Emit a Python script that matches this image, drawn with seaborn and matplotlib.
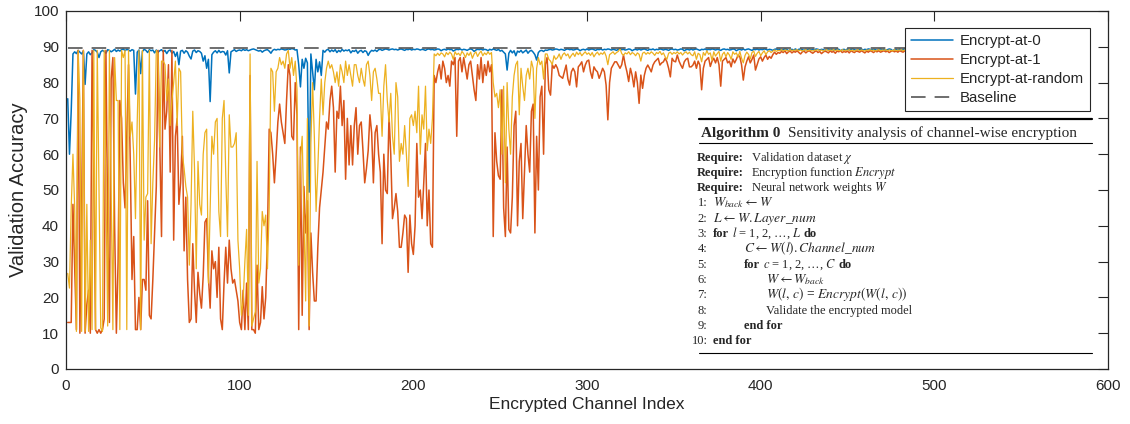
import matplotlib
matplotlib.use("Agg")
import matplotlib.pyplot as plt
from matplotlib.lines import Line2D
from matplotlib.patches import Rectangle
import numpy as np
import pandas as pd
import seaborn as sns

# validation accuracy per encrypted channel
acc_at0 = [
    75.5, 60.0, 72.0, 88.0, 88.6, 88.1, 89.0, 88.5, 88.0, 88.8,
    79.5, 88.0, 88.6, 87.8, 88.3, 89.2, 89.0, 88.5, 87.0, 88.6,
    89.0, 88.7, 88.2, 89.2, 89.0, 88.6, 88.9, 89.3, 88.7, 89.1,
    88.8, 89.2, 89.4, 88.9, 89.3, 89.1, 88.8, 89.2, 89.0, 76.8,
    88.5, 89.1, 82.5, 88.7, 89.3, 89.0, 88.4, 89.2, 88.9, 89.1,
    88.3, 89.1, 88.5, 88.9, 89.2, 88.6, 89.0, 88.1, 88.9, 89.1,
    88.2, 88.7, 87.3, 88.5, 85.0, 88.8, 89.0, 88.2, 88.9, 88.5,
    87.4, 86.6, 88.8, 89.1, 88.4, 88.9, 88.7, 88.2, 86.0, 87.5,
    84.0, 86.5, 74.7, 87.8, 88.5, 88.9, 88.3, 89.0, 88.4, 88.7,
    88.6, 87.7, 88.9, 82.7, 88.6, 88.9, 89.2, 88.7, 89.0, 89.1,
    88.9, 89.3, 89.0, 89.2, 88.9, 89.1, 89.3, 89.4, 89.2, 89.0,
    88.8, 89.0, 88.5, 88.9, 89.1, 89.2, 88.8, 88.2, 89.0, 89.3,
    89.1, 89.3, 89.2, 89.4, 89.3, 89.1, 89.2, 89.4, 89.3, 89.5,
    89.4, 89.1, 89.2, 85.0, 78.8, 86.5, 84.0, 86.8, 85.5, 49.4,
    88.0, 83.0, 78.0, 86.5, 83.0, 85.8, 82.0, 89.0, 88.5, 89.1,
    89.3, 88.6, 89.1, 88.7, 89.2, 88.4, 89.0, 88.6, 89.3, 88.8,
    89.1, 88.9, 89.2, 88.3, 88.9, 88.7, 89.1, 88.2, 88.8, 89.0,
    88.4, 88.9, 88.7, 87.6, 88.5, 89.0, 88.8, 89.1, 88.7, 89.2,
    89.3, 89.0, 89.2, 89.4, 89.3, 89.1, 89.3, 89.4, 89.2, 89.3,
    89.1, 89.3, 89.4, 89.2, 89.0, 89.3, 89.2, 89.4, 89.1, 89.3,
    89.2, 89.4, 89.3, 89.1, 89.3, 89.2, 89.0, 89.3, 89.4, 89.2,
    89.3, 89.1, 89.2, 89.4, 89.3, 88.9, 89.2, 89.3, 89.1, 89.4,
    89.2, 89.3, 88.8, 89.1, 89.3, 89.2, 89.4, 89.1, 89.3, 89.2,
    89.0, 89.3, 89.4, 89.2, 88.7, 89.1, 89.3, 89.2, 89.4, 89.1,
    89.3, 89.2, 88.9, 89.3, 89.1, 89.4, 89.2, 89.0, 89.3, 88.8,
    89.0, 88.5, 88.0, 83.5, 88.2, 89.0, 88.3, 88.9, 87.5, 88.8,
    88.5, 89.0, 88.3, 88.7, 89.1, 88.2, 88.8, 89.0, 88.5, 87.8,
    86.3, 88.4, 88.9, 89.0, 88.7, 89.1, 89.0, 89.2, 89.3, 89.1,
    89.2, 89.4, 89.3, 89.1, 89.3, 89.2, 89.0, 89.3, 89.4, 89.2,
    89.3, 89.1, 89.2, 89.4, 89.3, 88.9, 89.2, 89.3, 89.1, 89.4,
    89.1, 89.3, 89.4, 89.2, 89.0, 89.3, 89.2, 89.4, 89.1, 89.3,
    89.2, 89.4, 89.3, 89.1, 89.3, 89.2, 89.0, 89.3, 89.4, 89.2,
    89.3, 89.1, 89.2, 89.4, 89.3, 88.9, 89.2, 89.3, 89.1, 89.4,
    89.1, 89.3, 89.4, 89.2, 89.0, 89.3, 89.2, 89.4, 89.1, 89.3,
    89.2, 89.4, 89.3, 89.1, 89.3, 89.2, 89.0, 89.3, 89.4, 89.2,
    89.3, 89.1, 89.2, 89.4, 89.3, 88.9, 89.2, 89.3, 89.1, 89.4,
    89.1, 89.3, 89.4, 89.2, 89.0, 89.3, 89.2, 89.4, 89.1, 89.3,
    89.2, 89.4, 89.3, 89.1, 89.3, 89.2, 89.0, 89.3, 89.4, 89.2,
    89.3, 89.1, 89.2, 89.4, 89.3, 88.9, 89.2, 89.3, 89.1, 89.4,
    89.1, 89.3, 89.4, 89.2, 89.0, 89.3, 89.2, 89.4, 89.1, 89.3,
    89.2, 89.4, 89.3, 89.1, 89.3, 89.2, 89.0, 89.3, 89.4, 89.2,
    89.3, 89.1, 89.2, 89.4, 89.3, 88.9, 89.2, 89.3, 89.1, 89.4,
    89.1, 89.3, 89.4, 89.2, 89.0, 89.3, 89.2, 89.4, 89.1, 89.3,
    89.2, 89.4, 89.3, 89.1, 89.3, 89.2, 89.0, 89.3, 89.4, 89.2,
    89.3, 89.1, 89.2, 89.4, 89.3, 88.9, 89.2, 89.3, 89.1, 89.4,
    89.1, 89.3, 89.4, 89.2, 89.0, 89.3, 89.2, 89.4, 89.1, 89.3,
    89.2, 89.4, 89.3, 89.1, 89.3, 89.2, 89.0, 89.3, 89.4, 89.2,
    89.3, 89.1, 89.2, 89.4, 89.3, 88.9, 89.2, 89.3, 89.1, 89.4,
    89.1, 89.3, 89.4, 89.2, 89.0, 89.3, 89.2, 89.4, 89.1, 89.3,
    89.2, 89.4, 89.3, 89.1, 89.3, 89.2, 89.0, 89.3, 89.4, 89.2,
    89.3, 89.1, 89.2, 89.4, 89.3, 88.9, 89.2, 89.3, 89.1, 89.4,
    89.1, 89.3, 89.4, 89.2, 89.0, 89.3, 89.2, 89.4, 89.1, 89.3,
    89.2, 89.4, 89.3, 89.1, 89.3, 89.2, 89.0, 89.3, 89.4, 89.2,
    89.3, 89.1, 89.2, 89.4, 89.3, 88.9, 89.2, 89.3, 89.1, 89.4,
    89.1, 89.3, 89.4, 89.2, 89.0, 89.3, 89.2, 89.4, 89.1, 89.3,
    89.2, 89.4, 89.3, 89.1, 89.3, 89.2, 89.0, 89.3, 89.4, 89.2,
    89.3, 89.1, 89.2, 89.4, 89.3, 88.9, 89.2, 89.3, 89.1, 89.4,
    89.1, 89.3, 89.4, 89.2, 89.0, 89.3, 89.2, 89.4,
]

acc_at1 = [
    13, 13, 13, 46, 28, 11, 89, 10, 45, 89,
    10, 18, 22, 10, 89, 55, 11, 10, 11, 10,
    11, 14, 89, 40, 13, 81, 87, 40, 10, 30,
    75, 70, 52, 45, 65, 85, 58, 25, 37, 11,
    11, 20, 11, 25, 25, 22, 47, 15, 14, 25,
    38, 51, 89, 63, 37, 89, 67, 72, 85, 55,
    89, 36, 65, 70, 46, 52, 65, 33, 48, 25,
    13, 14, 35, 22, 13, 27, 21, 17, 26, 41,
    42, 26, 17, 33, 28, 30, 20, 34, 14, 11,
    24, 34, 24, 36, 28, 24, 25, 22, 19, 13,
    11, 22, 11, 24, 11, 82, 11, 11, 10, 29,
    11, 13, 23, 14, 20, 37, 67, 66, 60, 52,
    60, 69, 74, 69, 66, 63, 75, 85, 82, 65,
    64, 80, 71, 11, 62, 15, 51, 38, 47, 11,
    38, 27, 19, 19, 34, 45, 50, 55, 62, 69,
    67, 75, 79, 73, 55, 72, 70, 79, 68, 75,
    53, 70, 57, 68, 57, 68, 73, 60, 68, 69,
    61, 52, 56, 61, 71, 66, 52, 66, 68, 60,
    55, 35, 60, 50, 49, 71, 60, 42, 45, 49,
    44, 34, 34, 38, 43, 42, 27, 43, 35, 32,
    40, 63, 48, 50, 42, 52, 63, 40, 50, 35,
    34, 82, 80, 83, 85, 81, 86, 84, 80, 82,
    79, 86, 85, 87, 65, 86, 87, 83, 87, 84,
    81, 85, 86, 82, 78, 75, 85, 81, 87, 80,
    85, 82, 86, 83, 85, 37, 66, 58, 54, 53,
    78, 45, 37, 62, 39, 38, 48, 68, 72, 40,
    58, 63, 42, 55, 68, 60, 55, 72, 74, 38,
    65, 50, 76, 79, 60, 85, 87, 78, 76.5, 85,
    84, 85, 84, 82, 81.6, 81.2, 83, 84.9, 81, 79.3,
    83, 84, 83, 78.8, 84.4, 85, 85.8, 83, 84.9, 86,
    86.3, 83, 81.2, 84.4, 83.5, 83, 81.2, 82.5, 84, 83,
    79.3, 69.6, 80, 84, 84.9, 85.8, 85.8, 84.9, 84, 85,
    87.7, 85, 83, 80.3, 84, 82, 78.8, 83, 80, 74.2,
    82.1, 78.4, 82, 84, 84.9, 84, 83, 84.9, 85.8, 86.3,
    86.8, 84.9, 85.5, 85.8, 86.8, 85.8, 84, 81.6, 86.8, 86,
    85.8, 87.7, 86, 84.9, 84, 85.8, 86.5, 86.8, 84.4, 84.4,
    84.9, 86, 84, 86, 84.9, 78, 84, 86, 86.5, 87,
    84.5, 86, 86.8, 85.5, 87, 85, 79, 86, 86.5, 87,
    85.5, 86, 84.4, 86.6, 85.5, 86.5, 87.7, 87.2, 85, 80.7,
    84.4, 86, 87.2, 85.5, 86.5, 87.7, 83.5, 85, 86.6, 87.2,
    86, 87, 87.7, 86.5, 87.3, 86.8, 87.8, 88.5, 87.9, 88.4,
    88.2, 88.7, 88.4, 88.9, 88.1, 88.6, 88.8, 88.3, 88.7, 88.5,
    88.9, 88.4, 88.0, 88.6, 88.8, 88.3, 88.7, 88.9, 88.5, 88.2,
    88.6, 88.9, 88.4, 88.7, 88.1, 88.5, 88.8, 88.6, 88.3, 88.9,
    88.5, 88.7, 88.2, 88.8, 88.6, 88.9, 88.4, 88.7, 88.5, 88.8,
    88.3, 88.9, 88.6, 88.4, 88.8, 88.7, 88.5, 88.9, 88.6, 88.3,
    88.8, 88.5, 88.9, 88.7, 88.4, 88.8, 88.6, 88.9, 88.5, 88.7,
    88.9, 88.6, 88.8, 88.4, 88.7, 88.9, 88.6, 88.8, 88.5, 88.9,
    88.7, 88.5, 88.9, 88.6, 88.8, 88.4, 88.7, 88.9, 88.6, 88.8,
    88.5, 88.9, 88.7, 88.6, 88.8, 88.5, 88.9, 88.7, 88.4, 88.8,
    88.6, 88.9, 88.7, 88.5, 88.8, 88.9, 88.6, 88.7, 88.9, 88.5,
    88.8, 88.6, 88.9, 88.7, 88.8, 88.5, 88.9, 88.6, 88.8, 88.7,
    88.9, 88.7, 88.6, 88.9, 88.8, 88.5, 88.7, 88.9, 88.6, 88.8,
    88.7, 88.9, 88.5, 88.8, 88.6, 88.9, 88.7, 88.8, 88.6, 88.9,
    88.8, 88.6, 88.9, 88.7, 88.8, 88.9, 88.6, 88.8, 88.7, 88.9,
    88.7, 88.8, 88.6, 88.9, 88.8, 88.7, 88.9, 88.6, 88.8, 88.9,
    88.8, 88.7, 88.9, 88.8, 88.6, 88.9, 88.7, 88.8,
]

acc_rand = [
    26.7, 22.6, 45, 60, 45, 10.5, 89, 75, 10.5, 89,
    10.5, 46, 10.5, 36, 11, 89, 11, 89, 50, 11.5,
    10.5, 89, 50, 12, 89, 51, 11, 87, 75, 75,
    11, 89, 87, 89, 11, 89, 65, 69, 60, 42,
    69, 89, 11, 89, 36, 48, 49, 89, 35, 52,
    64, 89, 88, 62, 86, 86, 85, 75, 81, 68,
    75, 80, 86, 68, 84, 83, 60, 56, 51, 48,
    29, 46, 72, 56, 28, 58, 46, 43, 60, 66,
    67, 24, 45, 65, 60, 69, 70, 44, 37, 70,
    75, 54, 37, 71, 62, 62, 63, 66, 36, 28,
    15, 19, 30, 39, 15, 88, 12, 14, 16, 58,
    24, 28, 44, 40, 43, 28, 45, 84, 83, 72,
    83, 84, 87, 85, 86, 84, 88, 89, 84, 87,
    82, 86, 78, 29, 59, 65, 42, 19, 70, 12,
    63, 80, 65, 44, 56, 70, 81, 71, 80, 84,
    86, 84, 85, 83, 80, 83, 79, 85, 83, 80,
    86, 82, 85, 82, 79, 85, 85, 82, 80, 84,
    81, 79, 85, 86, 82, 75, 83, 84, 81, 77,
    77, 65, 79, 85, 75, 69, 77, 65, 60, 80,
    76, 58, 63, 60, 68, 60, 51, 70, 71, 68,
    72, 66, 79, 60, 71, 67, 79, 61, 67, 63,
    70, 88, 87.5, 88.2, 87.6, 88.3, 88, 87.2, 88.4, 87.8,
    88.5, 88, 86.5, 88.6, 87.8, 88.2, 87.5, 88.7, 88.1, 87,
    88.3, 87.6, 88.5, 86.8, 88, 88.6, 87.3, 88.2, 88.8, 87.5,
    88.3, 87.8, 88.6, 87.9, 88.4, 80, 76, 77, 73, 78,
    60, 79, 52, 80, 67, 60, 76, 82, 85, 86,
    71, 84, 79, 75, 82, 84, 81, 86, 84, 70,
    84, 87, 85, 86, 81, 88, 88, 86.5, 86, 85,
    87.5, 86.5, 87, 88, 86.5, 87.8, 88.3, 87.5, 88, 86.8,
    87.6, 88.2, 87.3, 88.5, 87.8, 88.4, 87.5, 88.1, 88.6, 87.9,
    88.3, 87.6, 88.4, 87.2, 88, 88.5, 87.7, 88.3, 87.9, 88.6,
    87.4, 85, 87.8, 88.2, 88.6, 87.9, 88.4, 88.7, 89.5, 88.1,
    87.6, 88.3, 88, 88.6, 87.8, 88.4, 88.1, 87.5, 88.3, 87.9,
    86, 88.2, 88.5, 87.9, 88.4, 88, 88.6, 88.2, 87.6, 88.4,
    88.1, 88.7, 87.8, 88.3, 87.2, 86.5, 88.2, 88.5, 87.9, 88.4,
    88.1, 88.6, 88, 88.4, 87.7, 88.3, 88.6, 88, 88.5, 87.8,
    87.5, 88.6, 86.5, 88.2, 87.8, 85.8, 88.4, 87.6, 88.9, 87.9,
    88.3, 86.2, 88.6, 87.4, 88.1, 88.7, 86.0, 87.9, 88.5, 87.2,
    88.4, 87.7, 86.5, 88.6, 87.9, 88.3, 87.1, 88.7, 86.8, 85.5,
    87.6, 88.5, 87.9, 86.6, 88.4, 88.8, 87.3, 88.2, 88.7, 87.5,
    88.3, 88.9, 87.8, 88.6, 88.9, 88.4, 88.8, 89.1, 88.7, 89.0,
    88.9, 89.2, 88.8, 89.1, 89.0, 88.8, 89.2, 88.9, 89.1, 89.0,
    89.2, 88.9, 89.1, 88.8, 89.0, 89.2, 88.9, 89.1, 89.0, 88.8,
    89.1, 89.0, 89.2, 88.9, 89.1, 88.8, 89.0, 89.2, 88.9, 89.1,
    89.0, 89.2, 88.9, 89.1, 89.0, 88.8, 89.2, 88.9, 89.1, 89.0,
    89.2, 88.9, 89.1, 88.8, 89.0, 89.2, 88.9, 89.1, 89.0, 88.8,
    89.1, 89.0, 89.2, 88.9, 89.1, 88.8, 89.0, 89.2, 88.9, 89.1,
    89.0, 89.2, 88.9, 89.1, 89.0, 88.8, 89.2, 88.9, 89.1, 89.0,
    89.2, 88.9, 89.1, 88.8, 89.0, 89.2, 88.9, 89.1, 89.0, 88.8,
    89.1, 89.0, 89.2, 88.9, 89.1, 88.8, 89.0, 89.2, 88.9, 89.1,
    89.0, 89.2, 88.9, 89.1, 89.0, 88.8, 89.2, 88.9, 89.1, 89.0,
    89.2, 88.9, 89.1, 88.8, 89.0, 89.2, 88.9, 89.1, 89.0, 88.8,
    89.1, 89.0, 89.2, 88.9, 89.1, 88.8, 89.0, 89.2, 88.9, 89.1,
    89.0, 89.2, 88.9, 89.1, 89.0, 88.8, 89.2, 88.9, 89.1, 89.0,
    89.2, 88.9, 89.1, 88.8, 89.0, 89.2, 88.9, 89.1, 89.0, 88.8,
    89.1, 89.0, 89.2, 88.9, 89.1, 88.8, 89.0, 89.2, 88.9, 89.1,
    89.0, 89.2, 88.9, 89.1, 89.0, 88.8, 89.2, 88.9,
]

baseline_acc = 89.7

series_names = ["Encrypt-at-0", "Encrypt-at-1", "Encrypt-at-random", "Baseline"]
series_colors = ["#0072BD", "#D95319", "#EDB120", "#555555"]

# algorithm box text: pieces per line, style b = bold, r = regular, m = math
algo_header = [("Algorithm 0", "b"), ("Sensitivity analysis of channel-wise encryption", "r")]
algo_require = [
    r"Validation dataset $\chi$",
    r"Encryption function $Encrypt$",
    r"Neural network weights $W$",
]
algo_steps = [
    (0, [(r"$W_{back} \leftarrow W$", "m")]),
    (0, [(r"$L \leftarrow W.Layer$_$num$", "m")]),
    (0, [("for", "b"), (r"$l$ = 1, 2, …, $L$", "r"), ("do", "b")]),
    (1, [(r"$C \leftarrow W(l).Channel$_$num$", "m")]),
    (1, [("for", "b"), (r"$c$ = 1, 2, …, $C$", "r"), ("do", "b")]),
    (2, [(r"$W \leftarrow W_{back}$", "m")]),
    (2, [(r"$W(l,\,c)$ = $Encrypt(W(l,\,c))$", "m")]),
    (2, [("Validate the encrypted model", "r")]),
    (1, [("end for", "b")]),
    (0, [("end for", "b")]),
]

sns.set_style("white")
plt.rcParams["font.family"] = ["Liberation Sans", "DejaVu Sans"]
plt.rcParams["mathtext.fontset"] = "stix"
plt.rcParams["lines.scale_dashes"] = False

W, H = 1130, 424
fig = plt.figure(figsize=(W / 100, H / 100), dpi=100)
ax = fig.add_axes([66 / W, 1 - 369 / H, (1108 - 66) / W, (369 - 11) / H])

df = pd.DataFrame({
    "idx": np.arange(1, len(acc_at0) + 1),
    "at0": acc_at0,
})
sns.lineplot(data=df, x="idx", y="at0", ax=ax, color=series_colors[0],
             linewidth=1.1, label=series_names[0])
sns.lineplot(x=np.arange(1, len(acc_at1) + 1), y=acc_at1, ax=ax,
             color=series_colors[1], linewidth=1.1, label=series_names[1])
sns.lineplot(x=np.arange(1, len(acc_rand) + 1), y=acc_rand, ax=ax,
             color=series_colors[2], linewidth=0.9, label=series_names[2])
n_max = max(len(acc_at0), len(acc_at1), len(acc_rand))
sns.lineplot(x=np.arange(1, n_max + 1), y=np.full(n_max, baseline_acc), ax=ax,
             color=series_colors[3], linewidth=1.2, linestyle=(0, (10.5, 6.5)),
             label=series_names[3])

ax.set_xlim(0, 600)
ax.set_ylim(0, 100)
ax.set_xticks(range(0, 601, 100))
ax.set_yticks(range(0, 101, 10))
ax.tick_params(direction="in", length=7, width=0.8, top=True, right=True,
               labelsize=11, colors="#262626", pad=5)
ax.tick_params(axis="x", pad=7)
for s in ax.spines.values():
    s.set_color("#262626")
    s.set_linewidth(0.9)
ax.set_xlabel("Encrypted Channel Index", fontsize=12.5, color="#262626", labelpad=3)
ax.set_ylabel("Validation Accuracy", fontsize=14.5, color="#262626", labelpad=4)

leg = ax.legend(loc="upper right", bbox_to_anchor=((1090 - 66) / 1042, (369 - 28) / 358),
                borderaxespad=0, frameon=True, fancybox=False,
                borderpad=0.42, handlelength=2.8, handletextpad=0.45, labelspacing=0.33,
                prop={"family": ["Liberation Sans", "DejaVu Sans"], "size": 10.8})
leg.get_frame().set_edgecolor("#262626")
leg.get_frame().set_linewidth(0.8)
leg.get_frame().set_alpha(1)


# algorithm box on top of the plot, placed in figure pixels
def fx(px):
    return px / W


def fy(py):
    return 1 - py / H


serif = ["Liberation Serif", "DejaVu Serif"]
renderer = fig.canvas.get_renderer()


def put_line(x_px, y_px, pieces, size, gap):
    x = x_px
    for txt, style in pieces:
        t = fig.text(fx(x), fy(y_px), txt, fontsize=size * (1.08 if style == "m" else 1.0),
                     family=serif, fontweight="bold" if style == "b" else "normal", zorder=7)
        x += t.get_window_extent(renderer).width + gap


fig.patches.append(Rectangle((fx(696), fy(357)), fx(1094) - fx(696), fy(116) - fy(357),
                             transform=fig.transFigure, facecolor="white",
                             edgecolor="none", zorder=5))
for y, lw in [(119, 1.6), (143, 0.8), (353, 0.8)]:
    fig.lines.append(Line2D([fx(699), fx(1092)], [fy(y), fy(y)], transform=fig.transFigure,
                            color="black", linewidth=lw, zorder=6))

put_line(701, 136.5, algo_header, 11.0, 8)
body = 9.0
line_y = 160.5
step = 15.3
for t in algo_require:
    fig.text(fx(697), fy(line_y), "Require:", fontsize=body, family=serif,
             fontweight="bold", zorder=7)
    fig.text(fx(751), fy(line_y), t, fontsize=body, family=serif, zorder=7)
    line_y += step
indent = [713, 744, 766]
for k, (lvl, pieces) in enumerate(algo_steps, start=1):
    fig.text(fx(707.5), fy(line_y), f"{k}:", fontsize=body, family=serif, ha="right", zorder=7)
    put_line(indent[lvl], line_y, pieces, body, 2.6)
    line_y += step

fig.savefig("out.png", dpi=100)
